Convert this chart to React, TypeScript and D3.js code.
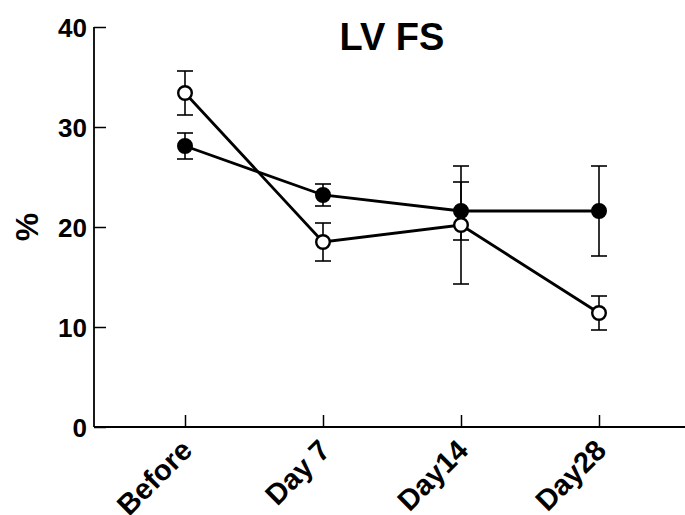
import React, { useEffect, useRef } from "react";
import * as d3 from "d3";

// timepoints
const categories = ["Before", "Day 7", "Day14", "Day28"];

// filled circles
const filledMean = [28.1, 23.2, 21.6, 21.6];
const filledErr = [1.3, 1.1, 2.9, 4.5];

// open circles
const openMean = [33.4, 18.5, 20.2, 11.4];
const openErr = [2.2, 1.9, 5.9, 1.7];

const yTicks = [0, 10, 20, 30, 40];

const W = 685;
const H = 515;
const left = 94;
const bottom = 427;
const top = 27;

const font = "'Liberation Sans', Arial, sans-serif";

export default function App() {
  const yAxisRef = useRef<SVGGElement>(null);
  const xAxisRef = useRef<SVGGElement>(null);

  const x = d3.scalePoint<string>().domain(categories).range([185, 599]);
  const y = d3.scaleLinear().domain([0, 40]).range([bottom, top]);

  useEffect(() => {
    const ya = d3.axisLeft(y).tickValues(yTicks).tickSize(-12).tickPadding(7);
    const gy = d3.select(yAxisRef.current!);
    gy.call(ya);
    gy.select(".domain").remove();
    gy.selectAll("line").attr("stroke", "#000").attr("stroke-width", 1.5);
    gy.selectAll("text")
      .attr("font-size", 26)
      .attr("font-weight", "bold")
      .attr("font-family", font)
      .attr("fill", "#000")
      .attr("dy", "0.36em");

    const xa = d3.axisBottom(x).tickSize(-12).tickFormat(() => "");
    const gx = d3.select(xAxisRef.current!);
    gx.call(xa);
    gx.select(".domain").remove();
    gx.selectAll("line").attr("stroke", "#000").attr("stroke-width", 1.5);
  }, []);

  const line = d3
    .line<number>()
    .x((_, i) => x(categories[i])!)
    .y((d) => y(d));

  const series = [
    { mean: filledMean, err: filledErr, fill: "#000" },
    { mean: openMean, err: openErr, fill: "#fff" },
  ];

  return (
    <svg
      width={W}
      height={H}
      style={{ position: "absolute", left: 0, top: 0, background: "#fff" }}
    >
      <text
        x={392}
        y={50}
        textAnchor="middle"
        fontFamily={font}
        fontWeight="bold"
        fontSize={38}
      >
        LV FS
      </text>
      <text
        transform="translate(38,227) rotate(-90)"
        textAnchor="middle"
        fontFamily={font}
        fontWeight="bold"
        fontSize={32}
      >
        %
      </text>

      <line x1={left} x2={left} y1={top} y2={bottom} stroke="#000" strokeWidth={1.8} />
      <line x1={left} x2={W} y1={bottom} y2={bottom} stroke="#000" strokeWidth={1.8} />
      <g ref={yAxisRef} transform={`translate(${left},0)`} />
      <g ref={xAxisRef} transform={`translate(0,${bottom})`} />

      {categories.map((c) => (
        <text
          key={c}
          transform={`translate(${x(c)! + 9},${bottom + 25}) rotate(-45)`}
          textAnchor="end"
          fontFamily={font}
          fontWeight="bold"
          fontSize={29}
        >
          {c}
        </text>
      ))}

      {series.map((s, si) => (
        <g key={"e" + si}>
          {s.mean.map((m, i) => {
            const cx = x(categories[i])!;
            return (
              <g key={i} stroke="#000" strokeWidth={1.6}>
                <line x1={cx} x2={cx} y1={y(m + s.err[i])} y2={y(m - s.err[i])} />
                <line x1={cx - 8} x2={cx + 8} y1={y(m + s.err[i])} y2={y(m + s.err[i])} />
                <line x1={cx - 8} x2={cx + 8} y1={y(m - s.err[i])} y2={y(m - s.err[i])} />
              </g>
            );
          })}
        </g>
      ))}

      {series.map((s, si) => (
        <path key={"l" + si} d={line(s.mean)!} fill="none" stroke="#000" strokeWidth={2.8} />
      ))}

      {series.map((s, si) => (
        <g key={"m" + si}>
          {s.mean.map((m, i) => (
            <circle
              key={i}
              cx={x(categories[i])!}
              cy={y(m)}
              r={6.8}
              fill={s.fill}
              stroke="#000"
              strokeWidth={2.4}
            />
          ))}
        </g>
      ))}
    </svg>
  );
}
